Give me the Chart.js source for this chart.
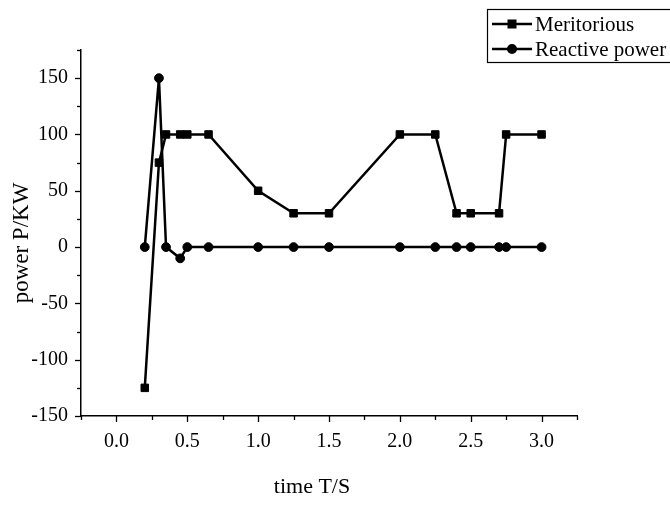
<!DOCTYPE html>
<html>
<head>
<meta charset="utf-8">
<script src="https://cdn.jsdelivr.net/npm/chart.js@4.4.0/dist/chart.umd.min.js"></script>
<style>
  html, body { margin: 0; padding: 0; background: #fff; }
  #chartFrame { position: relative; width: 670px; height: 510px; }
</style>
</head>
<body>
<div id="chartFrame"><canvas id="myChart"></canvas></div>
<script>
// data
var timeS = [0.2, 0.3, 0.35, 0.45, 0.5, 0.65, 1.0, 1.25, 1.5, 2.0, 2.25, 2.4, 2.5, 2.7, 2.75, 3.0];
var meritorious = [-125, 75, 100, 100, 100, 100, 50, 30, 30, 100, 100, 30, 30, 30, 100, 100];
var reactivePower = [0, 150, 0, -10, 0, 0, 0, 0, 0, 0, 0, 0, 0, 0, 0, 0];
var xTicks = [0.0, 0.5, 1.0, 1.5, 2.0, 2.5, 3.0];
var yTicks = [-150, -100, -50, 0, 50, 100, 150];
var xTitle = 'time T/S';
var yTitle = 'power P/KW';

var serif = '"Liberation Serif", "Times New Roman", serif';

function toPoints(values) {
    return timeS.map((t, i) => ({ x: t, y: values[i] }));
}

// ticks, axis titles and legend box drawn on top
var extras = {
    id: 'extras',
    afterDraw: function (chart) {
        var ctx = chart.ctx;
        var xs = chart.scales.x;
        var ys = chart.scales.y;
        var area = chart.chartArea;
        ctx.save();
        ctx.strokeStyle = '#000';
        ctx.lineWidth = 1.3;

        // x ticks, major + minor
        for (var v = xs.min; v <= xs.max + 1e-9; v += 0.25) {
            var px = Math.round(xs.getPixelForValue(v)) + 0.5;
            var major = xTicks.some(t => Math.abs(t - v) < 1e-6);
            ctx.beginPath();
            ctx.moveTo(px, area.bottom);
            ctx.lineTo(px, area.bottom + (major ? 6 : 4));
            ctx.stroke();
        }
        // y ticks
        for (var w = ys.min; w <= ys.max + 1e-9; w += 25) {
            var py = Math.round(ys.getPixelForValue(w)) + 0.5;
            var majorY = yTicks.indexOf(w) >= 0;
            ctx.beginPath();
            ctx.moveTo(area.left, py);
            ctx.lineTo(area.left - (majorY ? 6 : 4), py);
            ctx.stroke();
        }

        // axis titles
        ctx.fillStyle = '#000';
        ctx.textAlign = 'center';
        ctx.textBaseline = 'middle';
        ctx.font = '22px ' + serif;
        ctx.fillText(xTitle, 312, 487);
        ctx.save();
        ctx.translate(22, 243);
        ctx.rotate(-Math.PI / 2);
        ctx.font = '23px ' + serif;
        ctx.fillText(yTitle, 0, 0);
        ctx.restore();

        // legend
        ctx.lineWidth = 1.2;
        ctx.strokeRect(487.5, 9.5, 200, 53);
        ctx.font = '21px ' + serif;
        ctx.textAlign = 'left';
        chart.data.datasets.forEach(function (ds, i) {
            var ly = 24 + i * 25;
            ctx.lineWidth = 2.5;
            ctx.beginPath();
            ctx.moveTo(492, ly);
            ctx.lineTo(532, ly);
            ctx.stroke();
            ctx.beginPath();
            if (ds.pointStyle === 'rect') {
                ctx.rect(507.5, ly - 4.5, 9, 9);
            } else {
                ctx.arc(512, ly, 5, 0, Math.PI * 2);
            }
            ctx.fill();
            ctx.fillText(ds.label, 535, ly + 1);
        });
        ctx.restore();
    }
};

var config = {
    type: 'line',
    data: {
        datasets: [
            {
                label: 'Meritorious',
                data: toPoints(meritorious),
                borderColor: '#000',
                backgroundColor: '#000',
                borderWidth: 2.5,
                pointStyle: 'rect',
                pointRadius: 5.3,
                pointBorderWidth: 1,
                fill: false
            },
            {
                label: 'Reactive power',
                data: toPoints(reactivePower),
                borderColor: '#000',
                backgroundColor: '#000',
                borderWidth: 2.5,
                pointStyle: 'circle',
                pointRadius: 4.4,
                pointBorderWidth: 1,
                fill: false
            }
        ]
    },
    options: {
        responsive: false,
        animation: false,
        layout: { padding: { left: 0, top: 50, right: 93, bottom: 0 } },
        plugins: { legend: { display: false }, tooltip: { enabled: false } },
        scales: {
            x: {
                type: 'linear',
                min: -0.25,
                max: 3.25,
                afterBuildTicks: function (axis) {
                    axis.ticks = xTicks.map(v => ({ value: v }));
                },
                afterFit: function (axis) { axis.height = 94; },
                grid: { display: false },
                border: { display: true, color: '#000', width: 1.5 },
                ticks: {
                    padding: 6,
                    color: '#000',
                    font: { family: serif, size: 20 },
                    maxRotation: 0,
                    callback: function (v) { return Number(v).toFixed(1); }
                }
            },
            y: {
                min: -150,
                max: 175,
                afterBuildTicks: function (axis) {
                    axis.ticks = yTicks.map(v => ({ value: v }));
                },
                afterFit: function (axis) { axis.width = 81; },
                grid: { display: false },
                border: { display: true, color: '#000', width: 1.5 },
                ticks: {
                    padding: 5,
                    color: '#000',
                    font: { family: serif, size: 20 }
                }
            }
        }
    },
    plugins: [extras]
};

var canvas = document.getElementById('myChart');
canvas.width = 670;
canvas.height = 510;
var myChart = new Chart(canvas.getContext('2d'), config);
</script>
</body>
</html>
